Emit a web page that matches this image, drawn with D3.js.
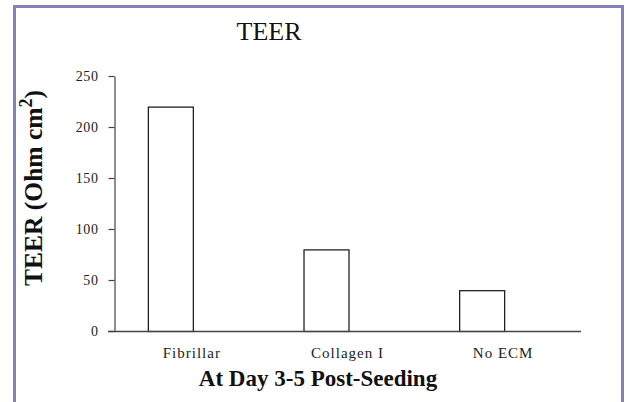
<!DOCTYPE html>
<html>
<head>
<meta charset="utf-8">
<script src="https://cdn.jsdelivr.net/npm/d3@7"></script>
<style>
  body { margin: 0; background: #fff; }
  svg { display: block; font-family: "Liberation Serif", "Times New Roman", serif; }
</style>
</head>
<body>
<svg id="chart" width="626" height="402"></svg>
<script>
// data
const categories = ["Fibrillar", "Collagen I", "No ECM"];
const teerValues = [220, 80, 40];
const yTicks = [0, 50, 100, 150, 200, 250];

const size = {
  width: 626, height: 402,
  plot: { left: 114, right: 581, top: 76, bottom: 331 }
};

const svg = d3.select("#chart");

// purple frame (bottom edge runs off the picture)
svg.append("rect")
  .attr("x", 14.5).attr("y", 6.5)
  .attr("width", 608).attr("height", 430)
  .attr("fill", "#fff")
  .attr("stroke", "#8282b8")
  .attr("stroke-width", 3);

const xScale = d3.scaleBand(categories, [size.plot.left, size.plot.right]).padding(0);
// two slots per category, the second one is empty (as in the original spreadsheet)
const xSub = d3.scaleBand(["TEER", "empty"], [0, xScale.bandwidth()]).paddingInner(0).paddingOuter(0.73);
const yScale = d3.scaleLinear([0, 250], [size.plot.bottom, size.plot.top]);

// bars
svg.append("g")
  .selectAll("rect")
  .data(categories)
  .join("rect")
  .attr("x", (d) => xScale(d) + xSub("TEER") + 1.5)
  .attr("y", (d, i) => yScale(teerValues[i]) + 0.5)
  .attr("width", xSub.bandwidth())
  .attr("height", (d, i) => yScale(0) - yScale(teerValues[i]))
  .attr("fill", "#fff")
  .attr("stroke", "#111")
  .attr("stroke-width", 1.2);

// y axis
const yAxis = svg.append("g")
  .attr("transform", `translate(${size.plot.left + 0.5},0)`)
  .call(d3.axisLeft(yScale).tickValues(yTicks).tickSize(6).tickPadding(10).tickSizeOuter(0));
yAxis.select(".domain").attr("stroke", "#444").attr("stroke-width", 1.2);
yAxis.selectAll(".tick line").attr("stroke", "#444").attr("stroke-width", 1.2);
yAxis.selectAll(".tick text")
  .attr("font-family", "Liberation Serif, serif")
  .attr("font-size", 14)
  .attr("letter-spacing", 0.6)
  .attr("fill", "#222");

// x axis line (starts at the 0 tick)
svg.append("line")
  .attr("x1", size.plot.left - 6).attr("x2", size.plot.right)
  .attr("y1", yScale(0) + 0.5).attr("y2", yScale(0) + 0.5)
  .attr("stroke", "#444")
  .attr("stroke-width", 1.6);

// category labels
svg.append("g")
  .selectAll("text")
  .data(categories)
  .join("text")
  .attr("x", (d) => xScale(d) + xScale.bandwidth() / 2)
  .attr("y", 357.5)
  .attr("text-anchor", "middle")
  .attr("font-size", 15)
  .attr("letter-spacing", 1)
  .attr("fill", "#222")
  .text((d) => d);

// title
svg.append("text")
  .attr("x", 269).attr("y", 40)
  .attr("text-anchor", "middle")
  .attr("font-size", 26)
  .attr("fill", "#111")
  .text("TEER");

// x title
svg.append("text")
  .attr("x", 318).attr("y", 386)
  .attr("text-anchor", "middle")
  .attr("font-size", 23)
  .attr("font-weight", "bold")
  .attr("fill", "#111")
  .text("At Day 3-5 Post-Seeding");

// y title
const yTitle = svg.append("text")
  .attr("transform", "translate(42,188) rotate(-90)")
  .attr("text-anchor", "middle")
  .attr("font-size", 25.5)
  .attr("font-weight", "bold")
  .attr("fill", "#111");
yTitle.append("tspan").text("TEER (Ohm cm");
yTitle.append("tspan").attr("dy", -10).attr("font-size", 18).text("2");
yTitle.append("tspan").attr("dy", 10).text(")");
</script>
</body>
</html>
